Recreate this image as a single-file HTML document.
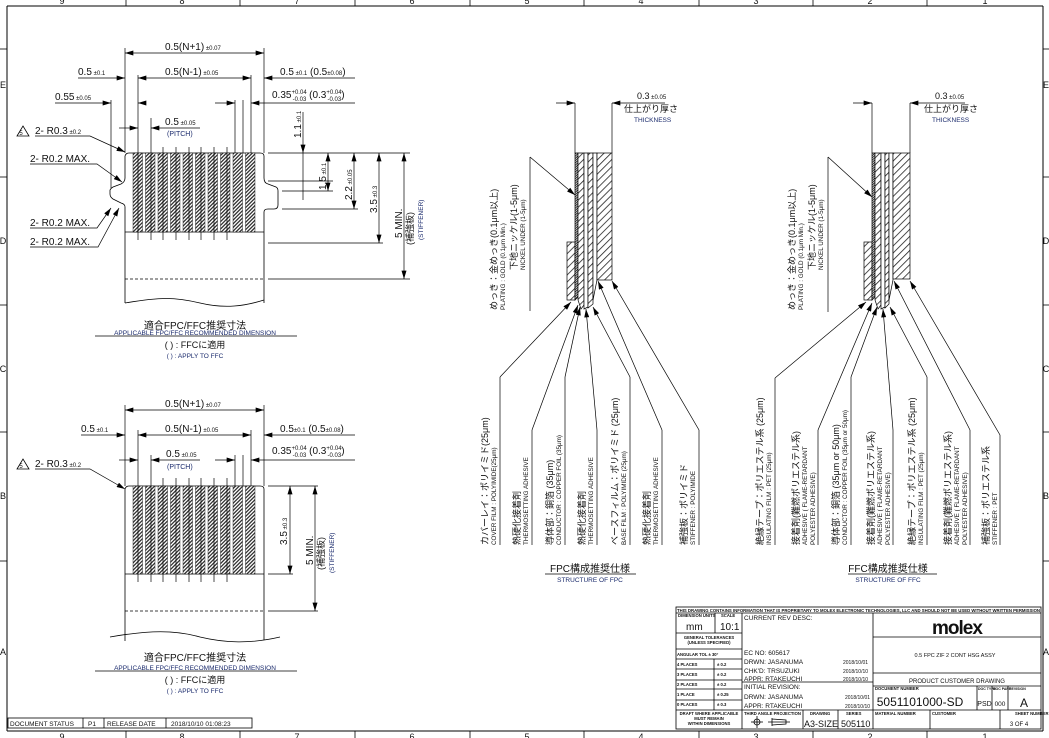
<!DOCTYPE html>
<html><head><meta charset="utf-8"><style>
html,body{margin:0;padding:0;background:#fff;}
svg{display:block;}
text{font-family:"Liberation Sans","Noto Sans CJK JP",sans-serif;fill:#111;}
.n{fill:#1a2a6c;}
</style></head><body>
<svg width="1049" height="738" viewBox="0 0 1049 738" xmlns="http://www.w3.org/2000/svg">
<defs>
<marker id="a" viewBox="0 0 10 6" refX="10" refY="3" markerWidth="9" markerHeight="5" markerUnits="userSpaceOnUse" orient="auto-start-reverse"><path d="M0,0L10,3L0,6z" fill="#000"/></marker>
<pattern id="hp" width="2.6" height="2.6" patternUnits="userSpaceOnUse" patternTransform="rotate(45)"><rect width="2.6" height="2.6" fill="#fff"/><rect width="1.3" height="2.6" fill="#333"/></pattern>
<pattern id="hl" width="5" height="5" patternUnits="userSpaceOnUse" patternTransform="rotate(45)"><rect width="5" height="5" fill="#fff"/><rect width="0.8" height="5" fill="#222"/></pattern>
<pattern id="hd" width="1.6" height="1.6" patternUnits="userSpaceOnUse" patternTransform="rotate(45)"><rect width="1.6" height="1.6" fill="#fff"/><rect width="0.9" height="1.6" fill="#222"/></pattern>
</defs>
<g stroke="#000" fill="none" stroke-width="1">
<line x1="7" y1="6" x2="1043" y2="6"/>
<line x1="7" y1="6" x2="7" y2="731"/>
<line x1="7" y1="731" x2="1043" y2="731"/>
<line x1="1043" y1="6" x2="1043" y2="731"/>
<g stroke-width="0.8">
<line x1="126" y1="0" x2="126" y2="6"/><line x1="240" y1="0" x2="240" y2="6"/><line x1="355" y1="0" x2="355" y2="6"/><line x1="470" y1="0" x2="470" y2="6"/><line x1="584" y1="0" x2="584" y2="6"/><line x1="699" y1="0" x2="699" y2="6"/><line x1="813" y1="0" x2="813" y2="6"/><line x1="927" y1="0" x2="927" y2="6"/>
<line x1="126" y1="731" x2="126" y2="738"/><line x1="240" y1="731" x2="240" y2="738"/><line x1="355" y1="731" x2="355" y2="738"/><line x1="470" y1="731" x2="470" y2="738"/><line x1="584" y1="731" x2="584" y2="738"/><line x1="699" y1="731" x2="699" y2="738"/><line x1="813" y1="731" x2="813" y2="738"/><line x1="927" y1="731" x2="927" y2="738"/>
<line x1="0" y1="49" x2="7" y2="49"/><line x1="0" y1="177" x2="7" y2="177"/><line x1="0" y1="305" x2="7" y2="305"/><line x1="0" y1="432" x2="7" y2="432"/><line x1="0" y1="561" x2="7" y2="561"/>
<line x1="1043" y1="49" x2="1049" y2="49"/><line x1="1043" y1="177" x2="1049" y2="177"/><line x1="1043" y1="305" x2="1049" y2="305"/><line x1="1043" y1="432" x2="1049" y2="432"/><line x1="1043" y1="561" x2="1049" y2="561"/>
</g>
</g>
<g font-size="9" text-anchor="middle">
<text x="62" y="4">9</text><text x="182" y="4">8</text><text x="297" y="4">7</text><text x="412" y="4">6</text><text x="527" y="4">5</text><text x="641" y="4">4</text><text x="756" y="4">3</text><text x="870" y="4">2</text><text x="985" y="4">1</text>
<text x="62" y="740">9</text><text x="182" y="740">8</text><text x="297" y="740">7</text><text x="412" y="740">6</text><text x="527" y="740">5</text><text x="641" y="740">4</text><text x="756" y="740">3</text><text x="870" y="740">2</text><text x="985" y="740">1</text>
<text x="3" y="88">E</text><text x="3" y="244">D</text><text x="3" y="372">C</text><text x="3" y="499">B</text><text x="3" y="655">A</text>
<text x="1046" y="88">E</text><text x="1046" y="244">D</text><text x="1046" y="372">C</text><text x="1046" y="499">B</text><text x="1046" y="655">A</text>
</g>

<!-- TOP DIMENSION DRAWING -->
<g stroke="#000" fill="none" stroke-width="0.8">
<path d="M125,303 L125,207 Q125,204 121,203 L113,199 Q110,197 110,194 L110,190 Q111,188 113,187 L121,184 Q125,182 125,178 L125,156 Q126,153 129,153 L260,153 Q264,153 264,156 L264,178 Q264,183 268,184 L276,187 Q278,188 278,191 L278,205 Q278,209 274,209 L268,209 Q264,209 264,212 L264,303"/>
<path d="M125,303 C160,297 175,297 200,303 C225,309 245,306 264,300"/>
<line x1="125" y1="279" x2="264" y2="279" stroke-dasharray="3,2"/>
<line x1="125" y1="232" x2="264" y2="232"/>
</g>
<g fill="url(#hp)" stroke="#000" stroke-width="0.4">
<rect x="133" y="153" width="9.5" height="79"/><rect x="145.5" y="153" width="9.5" height="79"/><rect x="158" y="153" width="9.5" height="79"/><rect x="170.5" y="153" width="9.5" height="79"/><rect x="183" y="153" width="9.5" height="79"/><rect x="195.5" y="153" width="9.5" height="79"/><rect x="208" y="153" width="9.5" height="79"/><rect x="220.5" y="153" width="9.5" height="79"/><rect x="233" y="153" width="9.5" height="79"/><rect x="245.5" y="153" width="9.5" height="79"/>
</g>
<g stroke="#000" stroke-width="0.7" fill="none">
<line x1="125" y1="48" x2="125" y2="153"/><line x1="264" y1="48" x2="264" y2="153"/>
<line x1="138" y1="75" x2="138" y2="240"/><line x1="151" y1="118" x2="151" y2="240"/>
<line x1="163" y1="147" x2="163" y2="240"/><line x1="176" y1="147" x2="176" y2="240"/><line x1="189" y1="147" x2="189" y2="240"/><line x1="201" y1="147" x2="201" y2="240"/><line x1="214" y1="147" x2="214" y2="240"/><line x1="227" y1="147" x2="227" y2="240"/>
<line x1="235" y1="100" x2="235" y2="153"/><line x1="243" y1="100" x2="243" y2="153"/><line x1="251" y1="75" x2="251" y2="153"/>
<line x1="111" y1="100" x2="111" y2="188"/>
<line x1="125" y1="53" x2="264" y2="53" marker-start="url(#a)" marker-end="url(#a)"/>
<line x1="78" y1="78" x2="125" y2="78" marker-end="url(#a)"/>
<line x1="138" y1="78" x2="251" y2="78" marker-start="url(#a)" marker-end="url(#a)"/>
<line x1="264" y1="78" x2="355" y2="78" marker-start="url(#a)"/>
<line x1="55" y1="103" x2="111" y2="103" marker-end="url(#a)"/>
<line x1="138" y1="103" x2="145" y2="103" marker-start="url(#a)"/>
<line x1="215" y1="103" x2="235" y2="103" marker-end="url(#a)"/>
<line x1="251" y1="103" x2="355" y2="103" marker-start="url(#a)"/>
<line x1="119" y1="128" x2="125" y2="128"/><line x1="125" y1="128" x2="138" y2="128" marker-end="url(#a)"/>
<line x1="151" y1="128" x2="200" y2="128" marker-start="url(#a)"/>
<line x1="268" y1="153" x2="410" y2="153"/>
<line x1="268" y1="181" x2="333" y2="181"/>
<line x1="282" y1="191" x2="333" y2="191"/>
<line x1="282" y1="209" x2="358" y2="209"/>
<line x1="268" y1="243" x2="383" y2="243"/>
<line x1="268" y1="279" x2="410" y2="279"/>
<line x1="303" y1="112" x2="303" y2="153" marker-end="url(#a)"/>
<line x1="303" y1="153" x2="303" y2="200"/>
<line x1="328" y1="153" x2="328" y2="191" marker-start="url(#a)" marker-end="url(#a)"/>
<line x1="354" y1="153" x2="354" y2="209" marker-start="url(#a)" marker-end="url(#a)"/>
<line x1="379" y1="153" x2="379" y2="243" marker-start="url(#a)" marker-end="url(#a)"/>
<line x1="404" y1="153" x2="404" y2="279" marker-start="url(#a)" marker-end="url(#a)"/>
<polyline points="35,136 90,136 125,152" marker-end="url(#a)"/>
<polyline points="30,164 97,164 122,182" marker-end="url(#a)"/>
<polyline points="30,228 97,228 111,208" marker-end="url(#a)"/>
<polyline points="30,247 98,247 119,208" marker-end="url(#a)"/>
<line x1="95" y1="336" x2="297" y2="336"/>
</g>
<g font-size="10">
<text x="165" y="50">0.5(N+1)<tspan font-size="6"> ±0.07</tspan></text>
<text x="78" y="75">0.5<tspan font-size="6"> ±0.1</tspan></text>
<text x="165" y="75">0.5(N-1)<tspan font-size="6"> ±0.05</tspan></text>
<text x="280" y="75">0.5<tspan font-size="6"> ±0.1</tspan> (0.5<tspan font-size="6">±0.08</tspan>)</text>
<text x="55" y="100">0.55<tspan font-size="6"> ±0.05</tspan></text>
<text x="272" y="98">0.35<tspan font-size="6" dy="-4">+0.04</tspan><tspan font-size="6" dx="-14" dy="7">-0.03</tspan><tspan dy="-3"> (0.3</tspan><tspan font-size="6" dy="-4">+0.04</tspan><tspan font-size="6" dx="-14" dy="7">-0.03</tspan><tspan dy="-3">)</tspan></text>
<text x="165" y="125">0.5<tspan font-size="6"> ±0.05</tspan></text>
<text x="167" y="136" font-size="7" class="n">(PITCH)</text>
<text x="35" y="134">2- R0.3<tspan font-size="6"> ±0.2</tspan></text>
<text x="30" y="162">2- R0.2 MAX.</text>
<text x="30" y="226">2- R0.2 MAX.</text>
<text x="30" y="245">2- R0.2 MAX.</text>
<text transform="translate(301,138) rotate(-90)">1.1<tspan font-size="6"> ±0.1</tspan></text>
<text transform="translate(326,190) rotate(-90)">1.5<tspan font-size="6"> ±0.1</tspan></text>
<text transform="translate(352,200) rotate(-90)">2.2<tspan font-size="6"> ±0.05</tspan></text>
<text transform="translate(377,213) rotate(-90)">3.5<tspan font-size="6"> ±0.3</tspan></text>
<text transform="translate(402,238) rotate(-90)">5 MIN.</text>
<text transform="translate(413,245) rotate(-90)" font-size="9">(補強板)</text>
<text transform="translate(423,240) rotate(-90)" font-size="6.5" class="n">(STIFFENER)</text>
</g>
<path d="M17,136 L23,126 L29,136z" fill="none" stroke="#000" stroke-width="0.8"/><text x="21" y="135" font-size="6" text-anchor="middle">5</text>
<g text-anchor="middle">
<text x="195" y="329" font-size="10">適合FPC/FFC推奨寸法</text>
<text x="195" y="335" font-size="6.5" class="n">APPLICABLE FPC/FFC RECOMMENDED DIMENSION</text>
<text x="195" y="348" font-size="9">( ) : FFCに適用</text>
<text x="195" y="358" font-size="6.5" class="n">( ) : APPLY TO FFC</text>
</g>

<!-- BOTTOM DIMENSION DRAWING -->
<g stroke="#000" fill="none" stroke-width="0.8">
<path d="M125,641 L125,489 Q126,486 129,486 L260,486 Q264,486 264,489 L264,640"/>
<path d="M110,637 C150,630 175,630 200,637 C225,643 250,644 280,637"/>
<line x1="125" y1="611" x2="264" y2="611" stroke-dasharray="3,2"/>
<line x1="125" y1="574" x2="264" y2="574"/>
</g>
<g fill="url(#hp)" stroke="#000" stroke-width="0.4">
<rect x="133" y="486" width="9.5" height="88"/><rect x="145.5" y="486" width="9.5" height="88"/><rect x="158" y="486" width="9.5" height="88"/><rect x="170.5" y="486" width="9.5" height="88"/><rect x="183" y="486" width="9.5" height="88"/><rect x="195.5" y="486" width="9.5" height="88"/><rect x="208" y="486" width="9.5" height="88"/><rect x="220.5" y="486" width="9.5" height="88"/><rect x="233" y="486" width="9.5" height="88"/><rect x="245.5" y="486" width="9.5" height="88"/>
</g>
<g stroke="#000" stroke-width="0.7" fill="none">
<line x1="125" y1="405" x2="125" y2="486"/><line x1="264" y1="405" x2="264" y2="486"/>
<line x1="138" y1="430" x2="138" y2="582"/><line x1="151" y1="455" x2="151" y2="582"/>
<line x1="163" y1="478" x2="163" y2="582"/><line x1="176" y1="478" x2="176" y2="582"/><line x1="189" y1="478" x2="189" y2="582"/><line x1="201" y1="478" x2="201" y2="582"/><line x1="214" y1="478" x2="214" y2="582"/><line x1="227" y1="478" x2="227" y2="582"/>
<line x1="235" y1="455" x2="235" y2="486"/><line x1="243" y1="455" x2="243" y2="486"/><line x1="251" y1="430" x2="251" y2="486"/>
<line x1="125" y1="410" x2="264" y2="410" marker-start="url(#a)" marker-end="url(#a)"/>
<line x1="81" y1="435" x2="125" y2="435" marker-end="url(#a)"/>
<line x1="138" y1="435" x2="251" y2="435" marker-start="url(#a)" marker-end="url(#a)"/>
<line x1="264" y1="435" x2="355" y2="435" marker-start="url(#a)"/>
<line x1="119" y1="460" x2="125" y2="460"/><line x1="125" y1="460" x2="138" y2="460" marker-end="url(#a)"/>
<line x1="151" y1="460" x2="200" y2="460" marker-start="url(#a)"/>
<line x1="215" y1="460" x2="235" y2="460" marker-end="url(#a)"/>
<line x1="251" y1="460" x2="355" y2="460" marker-start="url(#a)"/>
<line x1="268" y1="486" x2="318" y2="486"/>
<line x1="268" y1="574" x2="293" y2="574"/>
<line x1="268" y1="611" x2="318" y2="611"/>
<line x1="290" y1="486" x2="290" y2="574" marker-start="url(#a)" marker-end="url(#a)"/>
<line x1="315" y1="486" x2="315" y2="611" marker-start="url(#a)" marker-end="url(#a)"/>
<polyline points="35,469 90,469 125,489" marker-end="url(#a)"/>
<line x1="95" y1="671" x2="297" y2="671"/>
</g>
<g font-size="10">
<text x="165" y="407">0.5(N+1)<tspan font-size="6"> ±0.07</tspan></text>
<text x="81" y="432">0.5<tspan font-size="6"> ±0.1</tspan></text>
<text x="165" y="432">0.5(N-1)<tspan font-size="6"> ±0.05</tspan></text>
<text x="280" y="432">0.5<tspan font-size="6">±0.1</tspan> (0.5<tspan font-size="6">±0.08</tspan>)</text>
<text x="272" y="454">0.35<tspan font-size="6" dy="-4">+0.04</tspan><tspan font-size="6" dx="-14" dy="7">-0.03</tspan><tspan dy="-3"> (0.3</tspan><tspan font-size="6" dy="-4">+0.04</tspan><tspan font-size="6" dx="-14" dy="7">-0.03</tspan><tspan dy="-3">)</tspan></text>
<text x="166" y="457">0.5<tspan font-size="6"> ±0.05</tspan></text>
<text x="167" y="469" font-size="7" class="n">(PITCH)</text>
<text x="35" y="467">2- R0.3<tspan font-size="6"> ±0.2</tspan></text>
<text transform="translate(287,545) rotate(-90)">3.5<tspan font-size="6"> ±0.3</tspan></text>
<text transform="translate(313,565) rotate(-90)">5 MIN.</text>
<text transform="translate(324,570) rotate(-90)" font-size="9">(補強板)</text>
<text transform="translate(334,573) rotate(-90)" font-size="6.5" class="n">(STIFFENER)</text>
</g>
<path d="M17,469 L23,459 L29,469z" fill="none" stroke="#000" stroke-width="0.8"/><text x="21" y="468" font-size="6" text-anchor="middle">5</text>
<g text-anchor="middle">
<text x="195" y="661" font-size="10">適合FPC/FFC推奨寸法</text>
<text x="195" y="670" font-size="6.5" class="n">APPLICABLE FPC/FFC RECOMMENDED DIMENSION</text>
<text x="195" y="683" font-size="9">( ) : FFCに適用</text>
<text x="195" y="693" font-size="6.5" class="n">( ) : APPLY TO FFC</text>
</g>
<g stroke="#000" stroke-width="0.8" fill="none">
<rect x="8" y="718" width="244" height="10"/>
<line x1="83" y1="718" x2="83" y2="728"/><line x1="104" y1="718" x2="104" y2="728"/><line x1="166" y1="718" x2="166" y2="728"/>
</g>
<g font-size="6.5"><text x="10" y="726">DOCUMENT STATUS</text><text x="88" y="726">P1</text><text x="107" y="726">RELEASE DATE</text><text x="171" y="726">2018/10/10    01:08:23</text></g>

<!-- FPC STRUCTURE -->
<g stroke="#000" stroke-width="0.7">
<rect x="567" y="242" width="8" height="58" fill="url(#hl)"/>
<path d="M575,153 L578,153 L578,297 L575,300z" fill="url(#hd)"/>
<path d="M578,153 L584,153 L584,305 L581,309 L578,300z" fill="url(#hl)"/>
<path d="M584,153 L588,153 L588,307 L584,309z" fill="#fff"/>
<path d="M588,153 L593,153 L593,304 L588,308z" fill="url(#hl)"/>
<path d="M593,153 L597,153 L597,280 L593,300z" fill="#fff"/>
<rect x="597" y="153" width="15" height="127" fill="url(#hl)"/>
</g>
<g stroke="#000" stroke-width="0.7" fill="none">
<line x1="575" y1="103" x2="575" y2="153"/><line x1="612" y1="103" x2="612" y2="153"/>
<line x1="556" y1="103" x2="575" y2="103" marker-end="url(#a)"/>
<line x1="612" y1="103" x2="665" y2="103" marker-start="url(#a)"/>
<line x1="530" y1="157" x2="530" y2="311"/>
<line x1="530" y1="157" x2="575" y2="195" marker-end="url(#a)"/>
<line x1="500" y1="545" x2="500" y2="377"/><line x1="500" y1="377" x2="571" y2="302" marker-end="url(#a)"/>
<line x1="532" y1="545" x2="532" y2="430"/><line x1="532" y1="430" x2="578" y2="305" marker-end="url(#a)"/>
<line x1="565" y1="545" x2="565" y2="377"/><line x1="565" y1="377" x2="580" y2="307" marker-end="url(#a)"/>
<line x1="597" y1="545" x2="597" y2="430"/><line x1="597" y1="430" x2="586" y2="309" marker-end="url(#a)"/>
<line x1="630" y1="545" x2="630" y2="377"/><line x1="630" y1="377" x2="593" y2="307" marker-end="url(#a)"/>
<line x1="662" y1="545" x2="662" y2="430"/><line x1="662" y1="430" x2="598" y2="281" marker-end="url(#a)"/>
<line x1="699" y1="545" x2="699" y2="430"/><line x1="699" y1="430" x2="612" y2="281" marker-end="url(#a)"/>
<line x1="545" y1="574" x2="636" y2="574"/>
</g>
<text x="637" y="99" font-size="9">0.3<tspan font-size="6"> ±0.05</tspan></text>
<text x="624" y="112" font-size="9">仕上がり厚さ</text>
<text x="634" y="122" font-size="6.5" class="n">THICKNESS</text>
<g font-size="9">
<text transform="translate(497,310) rotate(-90)">めっき：金めっき(0.1μm以上)</text>
<text transform="translate(505,310) rotate(-90)" font-size="6.3">PLATING : GOLD (0.1μm Min.)</text>
<text transform="translate(517,270) rotate(-90)">下地ニッケル(1-5μm)</text>
<text transform="translate(525,270) rotate(-90)" font-size="6.3">NICKEL UNDER (1-5μm)</text>
<text transform="translate(488,545) rotate(-90)">カバーレイ：ポリイミド(25μm)</text>
<text transform="translate(496,545) rotate(-90)" font-size="6.3">COVER FILM : POLYIMIDE(25μm)</text>
<text transform="translate(520,545) rotate(-90)">熱硬化接着剤</text>
<text transform="translate(528,545) rotate(-90)" font-size="6.3">THERMOSETTING ADHESIVE</text>
<text transform="translate(553,545) rotate(-90)">導体部：銅箔 (35μm)</text>
<text transform="translate(561,545) rotate(-90)" font-size="6.3">CONDUCTOR : COPPER FOIL (35μm)</text>
<text transform="translate(585,545) rotate(-90)">熱硬化接着剤</text>
<text transform="translate(593,545) rotate(-90)" font-size="6.3">THERMOSETTING ADHESIVE</text>
<text transform="translate(618,545) rotate(-90)">ベースフィルム：ポリイミド (25μm)</text>
<text transform="translate(626,545) rotate(-90)" font-size="6.3">BASE FILM : POLYIMIDE (25μm)</text>
<text transform="translate(650,545) rotate(-90)">熱硬化接着剤</text>
<text transform="translate(658,545) rotate(-90)" font-size="6.3">THERMOSETTING ADHESIVE</text>
<text transform="translate(687,545) rotate(-90)">補強板：ポリイミド</text>
<text transform="translate(695,545) rotate(-90)" font-size="6.3">STIFFENER : POLYIMIDE</text>
</g>
<text x="590" y="572" font-size="10" text-anchor="middle">FPC構成推奨仕様</text>
<text x="590" y="582" font-size="6.5" text-anchor="middle" class="n">STRUCTURE OF FPC</text>

<!-- FFC STRUCTURE -->
<g stroke="#000" stroke-width="0.7">
<rect x="864" y="242" width="8" height="58" fill="url(#hl)"/>
<path d="M872,153 L875,153 L875,297 L872,300z" fill="url(#hd)"/>
<path d="M875,153 L881,153 L881,305 L878,309 L875,300z" fill="url(#hl)"/>
<path d="M881,153 L885,153 L885,307 L881,309z" fill="#fff"/>
<path d="M885,153 L889,153 L889,304 L885,308z" fill="url(#hl)"/>
<path d="M889,153 L893,153 L893,280 L889,300z" fill="#fff"/>
<rect x="893" y="153" width="17" height="126" fill="url(#hl)"/>
</g>
<g stroke="#000" stroke-width="0.7" fill="none">
<line x1="872" y1="103" x2="872" y2="153"/><line x1="910" y1="103" x2="910" y2="153"/>
<line x1="853" y1="103" x2="872" y2="103" marker-end="url(#a)"/>
<line x1="910" y1="103" x2="965" y2="103" marker-start="url(#a)"/>
<line x1="828" y1="157" x2="828" y2="312"/>
<line x1="828" y1="157" x2="872" y2="197" marker-end="url(#a)"/>
<line x1="775" y1="545" x2="775" y2="378"/><line x1="775" y1="378" x2="866" y2="302" marker-end="url(#a)"/>
<line x1="818" y1="545" x2="818" y2="430"/><line x1="818" y1="430" x2="872" y2="303" marker-end="url(#a)"/>
<line x1="851" y1="545" x2="851" y2="377"/><line x1="851" y1="377" x2="877" y2="307" marker-end="url(#a)"/>
<line x1="893" y1="545" x2="893" y2="430"/><line x1="893" y1="430" x2="883" y2="309" marker-end="url(#a)"/>
<line x1="927" y1="545" x2="927" y2="377"/><line x1="927" y1="377" x2="890" y2="307" marker-end="url(#a)"/>
<line x1="970" y1="545" x2="970" y2="430"/><line x1="970" y1="430" x2="894" y2="281" marker-end="url(#a)"/>
<line x1="1000" y1="545" x2="1000" y2="435"/><line x1="1000" y1="435" x2="910" y2="281" marker-end="url(#a)"/>
<line x1="848" y1="574" x2="937" y2="574"/>
</g>
<text x="935" y="99" font-size="9">0.3<tspan font-size="6"> ±0.05</tspan></text>
<text x="924" y="112" font-size="9">仕上がり厚さ</text>
<text x="932" y="122" font-size="6.5" class="n">THICKNESS</text>
<g font-size="9">
<text transform="translate(795,310) rotate(-90)">めっき：金めっき(0.1μm以上)</text>
<text transform="translate(803,310) rotate(-90)" font-size="6.3">PLATING : GOLD (0.1μm Min.)</text>
<text transform="translate(815,270) rotate(-90)">下地ニッケル(1-5μm)</text>
<text transform="translate(823,270) rotate(-90)" font-size="6.3">NICKEL UNDER (1-5μm)</text>
<text transform="translate(763,545) rotate(-90)">絶縁テープ：ポリエステル系 (25μm)</text>
<text transform="translate(771,545) rotate(-90)" font-size="6.3">INSULATING FILM : PET (25μm)</text>
<text transform="translate(799,545) rotate(-90)">接着剤(難燃ポリエステル系)</text>
<text transform="translate(807,545) rotate(-90)" font-size="6.3">ADHESIVE ( FLAME-RETARDANT</text>
<text transform="translate(815,545) rotate(-90)" font-size="6.3">POLYESTER ADHESIVE)</text>
<text transform="translate(839,545) rotate(-90)">導体部：銅箔 (35μm or 50μm)</text>
<text transform="translate(847,545) rotate(-90)" font-size="6.3">CONDUCTOR : COPPER FOIL (35μm or 50μm)</text>
<text transform="translate(874,545) rotate(-90)">接着剤(難燃ポリエステル系)</text>
<text transform="translate(882,545) rotate(-90)" font-size="6.3">ADHESIVE ( FLAME-RETARDANT</text>
<text transform="translate(890,545) rotate(-90)" font-size="6.3">POLYESTER ADHESIVE)</text>
<text transform="translate(915,545) rotate(-90)">絶縁テープ：ポリエステル系 (25μm)</text>
<text transform="translate(923,545) rotate(-90)" font-size="6.3">INSULATING FILM : PET (25μm)</text>
<text transform="translate(951,545) rotate(-90)">接着剤(難燃ポリエステル系)</text>
<text transform="translate(959,545) rotate(-90)" font-size="6.3">ADHESIVE ( FLAME-RETARDANT</text>
<text transform="translate(967,545) rotate(-90)" font-size="6.3">POLYESTER ADHESIVE)</text>
<text transform="translate(989,545) rotate(-90)">補強板：ポリエステル系</text>
<text transform="translate(997,545) rotate(-90)" font-size="6.3">STIFFENER : PET</text>
</g>
<text x="888" y="572" font-size="10" text-anchor="middle">FFC構成推奨仕様</text>
<text x="888" y="582" font-size="6.5" text-anchor="middle" class="n">STRUCTURE OF FFC</text>

<!-- TITLE BLOCK -->
<g stroke="#000" stroke-width="0.8" fill="none">
<rect x="676" y="607" width="365" height="122"/>
<line x1="676" y1="613" x2="1041" y2="613"/>
<line x1="742" y1="613" x2="742" y2="729"/>
<line x1="873" y1="613" x2="873" y2="729"/>
<line x1="715" y1="613" x2="715" y2="633"/>
<line x1="676" y1="633" x2="742" y2="633"/>
<line x1="676" y1="649" x2="742" y2="649"/>
<line x1="676" y1="659" x2="742" y2="659"/>
<line x1="676" y1="669" x2="742" y2="669"/>
<line x1="676" y1="680" x2="742" y2="680"/>
<line x1="676" y1="689" x2="742" y2="689"/>
<line x1="676" y1="700" x2="742" y2="700"/>
<line x1="676" y1="710" x2="742" y2="710"/>
<line x1="714" y1="659" x2="714" y2="710"/>
<line x1="742" y1="682" x2="873" y2="682"/>
<line x1="742" y1="710" x2="1041" y2="710"/>
<line x1="803" y1="710" x2="803" y2="729"/>
<line x1="838" y1="710" x2="838" y2="729"/>
<line x1="873" y1="637" x2="1041" y2="637"/>
<line x1="873" y1="673" x2="1041" y2="673"/>
<line x1="873" y1="686" x2="1041" y2="686"/>
<line x1="977" y1="686" x2="977" y2="710"/>
<line x1="992" y1="686" x2="992" y2="710"/>
<line x1="1008" y1="686" x2="1008" y2="710"/>
<line x1="930" y1="710" x2="930" y2="729"/>
<line x1="1000" y1="710" x2="1000" y2="729"/>
<circle cx="757" cy="722" r="3"/><line x1="751" y1="722" x2="763" y2="722"/><line x1="757" y1="716" x2="757" y2="728"/>
<path d="M768,722 L790,722 M772,718 L772,726 M772,719 L786,720 L786,724 L772,725"/>
</g>
<g font-size="4.2" font-weight="bold">
<text x="677" y="612" textLength="363" lengthAdjust="spacingAndGlyphs">THIS DRAWING CONTAINS INFORMATION THAT IS PROPRIETARY TO MOLEX ELECTRONIC TECHNOLOGIES, LLC AND SHOULD NOT BE USED WITHOUT WRITTEN PERMISSION</text>
<text x="678" y="617">DIMENSION UNITS</text><text x="721" y="617">SCALE</text>
<text x="709" y="639" text-anchor="middle">GENERAL TOLERANCES</text><text x="709" y="644" text-anchor="middle">(UNLESS SPECIFIED)</text>
<text x="677" y="656">ANGULAR TOL  ±   30°</text>
<text x="677" y="666">4 PLACES</text><text x="717" y="666">±    0.2</text>
<text x="677" y="676">3 PLACES</text><text x="717" y="676">±    0.2</text>
<text x="677" y="686">2 PLACES</text><text x="717" y="686">±    0.2</text>
<text x="677" y="696">1 PLACE</text><text x="717" y="696">±   0.25</text>
<text x="677" y="706">0 PLACES</text><text x="717" y="706">±    0.3</text>
<text x="709" y="715" text-anchor="middle">DRAFT WHERE APPLICABLE</text><text x="709" y="720" text-anchor="middle">MUST REMAIN</text><text x="709" y="725" text-anchor="middle">WITHIN DIMENSIONS</text>
<text x="744" y="715">THIRD ANGLE PROJECTION</text><text x="810" y="715">DRAWING</text><text x="846" y="715">SERIES</text>
<text x="875" y="690">DOCUMENT NUMBER</text><text x="978" y="690" font-size="3.5">DOC TYPE</text><text x="993" y="690" font-size="3.5">DOC PART</text><text x="1009" y="690" font-size="3.5">REVISION</text>
<text x="875" y="715">MATERIAL NUMBER</text><text x="932" y="715">CUSTOMER</text><text x="1015" y="715">SHEET NUMBER</text>
</g>
<text x="686" y="630" font-size="10">mm</text><text x="720" y="630" font-size="10">10:1</text>
<g font-size="6.5">
<text x="744" y="620">CURRENT REV DESC:</text>
<text x="744" y="655">EC NO:  605617</text>
<text x="744" y="664">DRWN:  JASANUMA</text><text x="843" y="664" font-size="5">2018/10/01</text>
<text x="744" y="673">CHK'D:  TRSUZUKI</text><text x="843" y="673" font-size="5">2018/10/10</text>
<text x="744" y="681">APPR:  RTAKEUCHI</text><text x="843" y="681" font-size="5">2018/10/10</text>
<text x="744" y="689">INITIAL REVISION:</text>
<text x="744" y="699">DRWN:  JASANUMA</text><text x="845" y="699" font-size="5">2018/10/01</text>
<text x="744" y="708">APPR:  RTAKEUCHI</text><text x="845" y="708" font-size="5">2018/10/10</text>
<text x="955" y="657" font-size="5.5" text-anchor="middle">0.5 FPC ZIF 2 CONT HSG ASSY</text>
<text x="957" y="683" font-size="6" text-anchor="middle">PRODUCT CUSTOMER DRAWING</text>
<text x="1019" y="726" text-anchor="middle" font-size="6">3 OF 4</text>
</g>
<text x="957" y="634" font-size="19" font-weight="bold" text-anchor="middle" letter-spacing="-1">molex</text>
<text x="920" y="706" font-size="12" text-anchor="middle">5051101000-SD</text>
<text x="984.5" y="706" font-size="7" text-anchor="middle">PSD</text><text x="1000" y="706" font-size="6.5" text-anchor="middle">000</text><text x="1024" y="707" font-size="12" text-anchor="middle">A</text>
<text x="804" y="727" font-size="9">A3-SIZE</text><text x="841" y="727" font-size="9">505110</text>
</svg>
</body></html>
